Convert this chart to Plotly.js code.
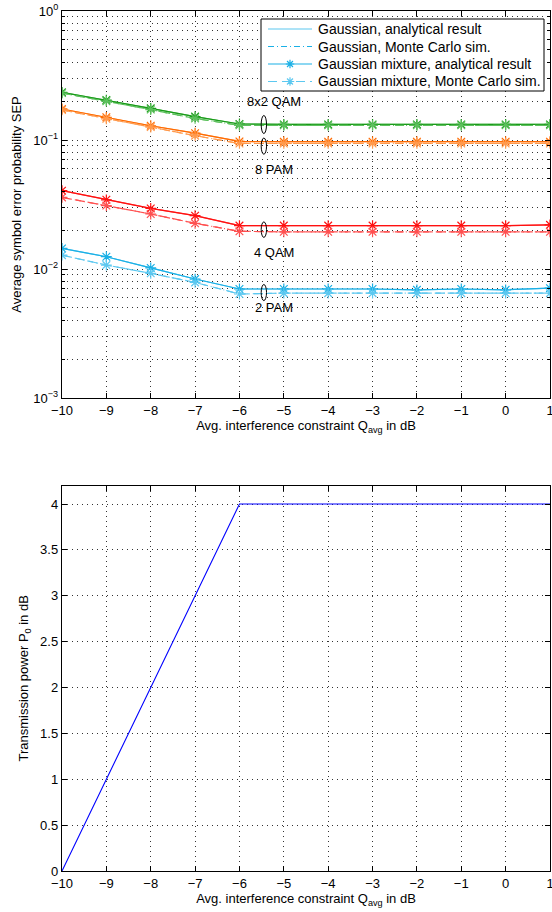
<!DOCTYPE html>
<html>
<head>
<meta charset="utf-8">
<script src="https://cdn.plot.ly/plotly-3.0.1.min.js"></script>
<style>html,body{margin:0;padding:0;background:#fff;}#chart{width:552px;height:912px;}</style>
</head>
<body>
<div id="chart"></div>
<script>
// ---- data ----
const qavg = [-10, -9, -8, -7, -6, -5, -4, -3, -2, -1, 0, 1];

// 8x2 QAM
const qam8x2Ana = [0.234, 0.204, 0.176, 0.152, 0.133, 0.132, 0.132, 0.132, 0.132, 0.132, 0.132, 0.132];
const qam8x2MC  = [0.231, 0.200, 0.172, 0.147, 0.130, 0.130, 0.130, 0.130, 0.130, 0.130, 0.130, 0.130];
// 8 PAM
const pam8Ana = [0.174, 0.150, 0.129, 0.113, 0.0975, 0.097, 0.097, 0.097, 0.097, 0.097, 0.097, 0.097];
const pam8MC  = [0.171, 0.146, 0.126, 0.108, 0.094, 0.094, 0.094, 0.094, 0.094, 0.094, 0.094, 0.094];
// 4 QAM
const qam4Ana = [0.0405, 0.0344, 0.0295, 0.0259, 0.0217, 0.0217, 0.0217, 0.0217, 0.0217, 0.0217, 0.0217, 0.0220];
const qam4MC  = [0.0359, 0.0310, 0.0267, 0.0226, 0.0196, 0.0194, 0.0194, 0.0194, 0.0194, 0.0194, 0.0194, 0.0194];
// 2 PAM
const pam2Ana = [0.01445, 0.01245, 0.0102, 0.00836, 0.0070, 0.0070, 0.0070, 0.0070, 0.0069, 0.0070, 0.0069, 0.0071];
const pam2MC  = [0.0128, 0.01073, 0.00925, 0.00787, 0.0064, 0.0065, 0.0065, 0.0065, 0.0065, 0.0065, 0.0065, 0.0065];

// transmission power P0 in dB
const p0dB = [0, 1, 2, 3, 4, 4, 4, 4, 4, 4, 4, 4];

const seriesNames = ['Gaussian, analytical result', 'Gaussian, Monte Carlo sim.',
                     'Gaussian mixture, analytical result', 'Gaussian mixture, Monte Carlo sim.'];
const schemeLabels = ['8x2 QAM', '8 PAM', '4 QAM', '2 PAM'];
const xTickVals = [-10, -9, -8, -7, -6, -5, -4, -3, -2, -1, 0, 1];
const yTickVals = [0.001, 0.01, 0.1, 1];
const yTickText = ['10<sup>−3</sup>', '10<sup>−2</sup>', '10<sup>−1</sup>', '10<sup>0</sup>'];
const p0TickVals = [0, 0.5, 1, 1.5, 2, 2.5, 3, 3.5, 4];

// ---- styling ----
const DASHDOT = '6px,3px,1px,3px';
const DASH = '9px,5px';
const schemes = [
  {ana: qam8x2Ana, mc: qam8x2MC, c: '#1a9a1a', cl: '#5cc05c'},
  {ana: pam8Ana,  mc: pam8MC,  c: '#ff6a00', cl: '#ff9a4d'},
  {ana: qam4Ana,  mc: qam4MC,  c: '#ff1010', cl: '#ff5050'},
  {ana: pam2Ana,  mc: pam2MC,  c: '#1ab0e6', cl: '#5cc8f0'}
];

const traces = [];
schemes.forEach(s => {
  traces.push({x: qavg, y: s.ana, type: 'scatter', mode: 'lines', name: seriesNames[0],
    line: {color: s.cl, width: 1.2}, showlegend: false, xaxis: 'x', yaxis: 'y'});
  traces.push({x: qavg, y: s.mc, type: 'scatter', mode: 'lines', name: seriesNames[1],
    line: {color: s.cl, width: 1.2, dash: DASHDOT}, showlegend: false, xaxis: 'x', yaxis: 'y'});
  traces.push({x: qavg, y: s.ana, type: 'scatter', mode: 'lines+markers', name: seriesNames[2],
    line: {color: s.c, width: 1.2},
    marker: {symbol: 'asterisk-open', size: 9, line: {color: s.c, width: 1.2}},
    showlegend: false, xaxis: 'x', yaxis: 'y'});
  traces.push({x: qavg, y: s.mc, type: 'scatter', mode: 'lines+markers', name: seriesNames[3],
    line: {color: s.cl, width: 1.2, dash: DASH},
    marker: {symbol: 'asterisk-open', size: 9, line: {color: s.cl, width: 1.2}},
    showlegend: false, xaxis: 'x', yaxis: 'y'});
});

traces.push({x: qavg, y: p0dB, type: 'scatter', mode: 'lines', name: 'P0',
  line: {color: '#0000ff', width: 1.1}, showlegend: false, xaxis: 'x2', yaxis: 'y2'});

const FONT = 'Liberation Sans, Arial, Helvetica, sans-serif';
const gridCommon = {
  showgrid: true, gridcolor: '#333', griddash: '1px,4px', gridwidth: 1,
  showline: true, linecolor: '#000', linewidth: 1.2, mirror: 'ticks',
  ticks: 'inside', ticklen: 5, tickcolor: '#000', zeroline: false,
  ticklabeloverflow: 'allow',
  tickfont: {family: FONT, size: 13, color: '#000'}
};

const minorVals = [];
[0.001, 0.01, 0.1].forEach(d => { for (let k = 2; k <= 9; k++) minorVals.push(d * k); });

// ---- layout geometry (pixels) ----
const W = 552, H = 912, ML = 62, MR = 2, MT = 11, MB = 41;
const PW = W - ML - MR, PH = H - MT - MB;
const px = v => (v - ML) / PW;          // pixel x -> paper x
const py = v => (H - MB - v) / PH;      // pixel y -> paper y

// ellipse / label positions (decade exponents, converted to y-domain fraction)
const dom = e => (e + 3) / 3;
const annX = -5.22;
const ellX = -5.45;
const ellipses = [[-0.81, -0.95], [-0.985, -1.11], [-1.635, -1.755], [-2.12, -2.245]];
const labelY = [-0.705, -1.225, -1.875, -2.30];

const shapes = ellipses.map(e => ({
  type: 'circle', xref: 'x', yref: 'y domain', x0: ellX - 0.06, x1: ellX + 0.06,
  y0: dom(e[1]), y1: dom(e[0]), line: {color: '#000', width: 1}
}));
const annotations = schemeLabels.map((t, i) => ({
  text: t, x: annX, y: dom(labelY[i]), xref: 'x', yref: 'y domain', showarrow: false,
  xanchor: 'center', yanchor: 'middle',
  font: {family: FONT, size: 13, color: '#000'}
}));

// ---- legend (drawn as shapes + text) ----
const legBox = {x0: 261, x1: 544, y0: 19, y1: 91};
shapes.push({type: 'rect', xref: 'paper', yref: 'paper',
  x0: px(legBox.x0), x1: px(legBox.x1), y0: py(legBox.y1), y1: py(legBox.y0),
  fillcolor: '#fff', line: {color: '#000', width: 1}, layer: 'above'});
const legRows = [29, 46.5, 64, 81.5];
const legC = ['#5cc8f0', '#1ab0e6', '#1ab0e6', '#5cc8f0'];
const legDash = ['solid', DASHDOT, 'solid', DASH];
const legMarker = [false, false, true, true];
const asterisk = (cx, cy, r, col) => {
  const d = r * 0.707;
  const seg = (ax, ay, bx, by) => `M${px(ax)},${py(ay)} L${px(bx)},${py(by)} `;
  return {type: 'path', xref: 'paper', yref: 'paper', line: {color: col, width: 1.2},
    path: seg(cx - r, cy, cx + r, cy) + seg(cx, cy - r, cx, cy + r) +
          seg(cx - d, cy - d, cx + d, cy + d) + seg(cx - d, cy + d, cx + d, cy - d)};
};
legRows.forEach((ry, i) => {
  shapes.push({type: 'line', xref: 'paper', yref: 'paper', x0: px(268), x1: px(312),
    y0: py(ry), y1: py(ry), line: {color: legC[i], width: 1.2, dash: legDash[i]}});
  if (legMarker[i]) shapes.push(asterisk(290, ry, 4.2, legC[i]));
  annotations.push({text: seriesNames[i], xref: 'paper', yref: 'paper', x: px(316), y: py(ry),
    xanchor: 'left', yanchor: 'middle', showarrow: false,
    font: {family: FONT, size: 14, color: '#000'}});
});

const layout = {
  width: W, height: H,
  margin: {l: ML, r: MR, t: MT, b: MB},
  paper_bgcolor: '#fff', plot_bgcolor: '#fff',
  font: {family: FONT, size: 13, color: '#000'},
  showlegend: false,
  xaxis: Object.assign({}, gridCommon, {
    range: [-10, 1], tickvals: xTickVals, anchor: 'y', domain: [0, 1],
    title: {text: 'Avg. interference constraint Q<sub>avg</sub> in dB', font: {family: FONT, size: 13}, standoff: 2}
  }),
  yaxis: Object.assign({}, gridCommon, {
    type: 'log', range: [-3, 0], domain: [0.55, 1], anchor: 'x',
    tickvals: yTickVals, ticktext: yTickText,
    minor: {tickvals: minorVals, showgrid: true, gridcolor: '#333', griddash: '1px,4px', ticks: 'inside', ticklen: 3, tickcolor: '#000'},
    title: {text: 'Average symbol error probability SEP', font: {family: FONT, size: 13}, standoff: 8}
  }),
  xaxis2: Object.assign({}, gridCommon, {
    range: [-10, 1], tickvals: xTickVals, anchor: 'y2', domain: [0, 1],
    title: {text: 'Avg. interference constraint Q<sub>avg</sub> in dB', font: {family: FONT, size: 13}, standoff: 2}
  }),
  yaxis2: Object.assign({}, gridCommon, {
    range: [0, 4.2], domain: [0, 0.448], anchor: 'x2',
    tickvals: p0TickVals,
    title: {text: 'Transmission power P<sub>0</sub> in dB', font: {family: FONT, size: 13}, standoff: 8}
  }),
  shapes: shapes,
  annotations: annotations
};

Plotly.newPlot('chart', traces, layout, {displayModeBar: false, staticPlot: true});
</script>
</body>
</html>
